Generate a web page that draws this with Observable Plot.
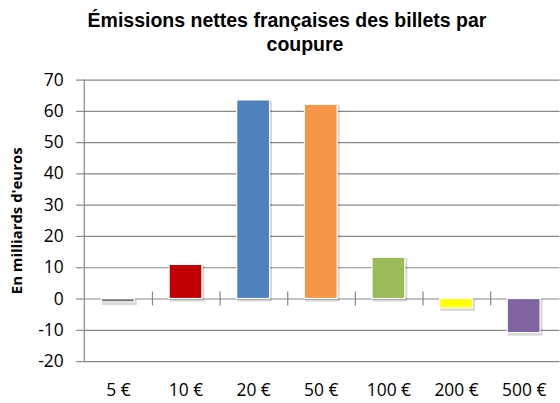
<!DOCTYPE html>
<html>
<head>
<meta charset="utf-8">
<script src="https://cdn.jsdelivr.net/npm/d3@7"></script>
<script src="https://cdn.jsdelivr.net/npm/@observablehq/plot@0.6"></script>
<style>
  html, body { margin: 0; padding: 0; background: #fff; overflow: hidden; }
  #wrap { position: relative; width: 560px; height: 403px; overflow: hidden; }
  .t { position: absolute; width: 560px; font-family: "Liberation Sans", Arial, sans-serif; font-weight: bold; font-size: 19.5px; line-height: 22px; color: #000; text-align: center; white-space: nowrap; }
  #chart { position: absolute; left: 0; top: 0; }
</style>
</head>
<body>
<div id="wrap">
  <div id="chart"></div>
  <div class="t" style="left:7px; top:9px;">Émissions nettes françaises des billets par</div>
  <div class="t" style="left:25px; top:33px;">coupure</div>
</div>
<script>
const coupures = ["5 €", "10 €", "20 €", "50 €", "100 €", "200 €", "500 €"];
const valeurs = [-1.1, 10.9, 63.5, 62.1, 13.2, -3.0, -10.9];
const couleurs = ["#7f7f7f", "#c00000", "#4f81bd", "#f79646", "#9bbb59", "#ffff00", "#8064a2"];
const yTicks = [-20, -10, 0, 10, 20, 30, 40, 50, 60, 70];
const yTitle = "En milliards d'euros";

const data = coupures.map((c, i) => ({coupure: c, valeur: valeurs[i], couleur: couleurs[i]}));
const font = "'Open Sans', sans-serif";
const W = 563, ML = 82.6, MR = 0.4;
const step = (W - ML - MR) / coupures.length;
const axisGray = "#878787";

const chart = Plot.plot({
  width: W,
  height: 403,
  marginTop: 80,
  marginBottom: 40,
  marginLeft: ML,
  marginRight: MR,
  style: {fontFamily: font, fontSize: "17.5px", color: "#000", background: "transparent"},
  x: {domain: coupures, paddingInner: 0.52, paddingOuter: 0.26, label: null},
  y: {domain: [-20, 70], ticks: yTicks, label: null},
  marks: [
    Plot.gridY(yTicks, {stroke: axisGray, strokeOpacity: 1, strokeWidth: 1.2}),
    Plot.ruleX([coupures[0]], {x: d => d, dx: -step / 2, y1: -20, y2: 70, stroke: axisGray, strokeWidth: 1.2}),
    Plot.ruleX(coupures.slice(0, -1), {x: d => d, y1: 0, y2: 0, insetTop: -7, insetBottom: -7, dx: step / 2, stroke: axisGray, strokeWidth: 1.2}),
    Plot.barY(data, {x: "coupure", y: "valeur", fill: "#000", fillOpacity: 0.16, dx: 1.5, dy: 2, inset: -1}),
    Plot.barY(data, {x: "coupure", y: "valeur", fill: "couleur", stroke: "#fff", strokeWidth: 1.2, inset: 0}),
    Plot.axisY(yTicks, {tickSize: 6, tickPadding: 13, stroke: axisGray, strokeWidth: 1.2, fill: "#000", fontSize: 17.5, tickFormat: d => String(d), label: null}),
    Plot.axisX({tickSize: 0, tickPadding: 22, fill: "#000", fontSize: 17.5, label: null}),
    Plot.text([yTitle], {frameAnchor: "left", textAnchor: "middle", dx: -66, rotate: -90, fontWeight: "bold", fontSize: 15, fill: "#000", text: d => d})
  ]
});
document.getElementById("chart").appendChild(chart);
</script>
</body>
</html>
